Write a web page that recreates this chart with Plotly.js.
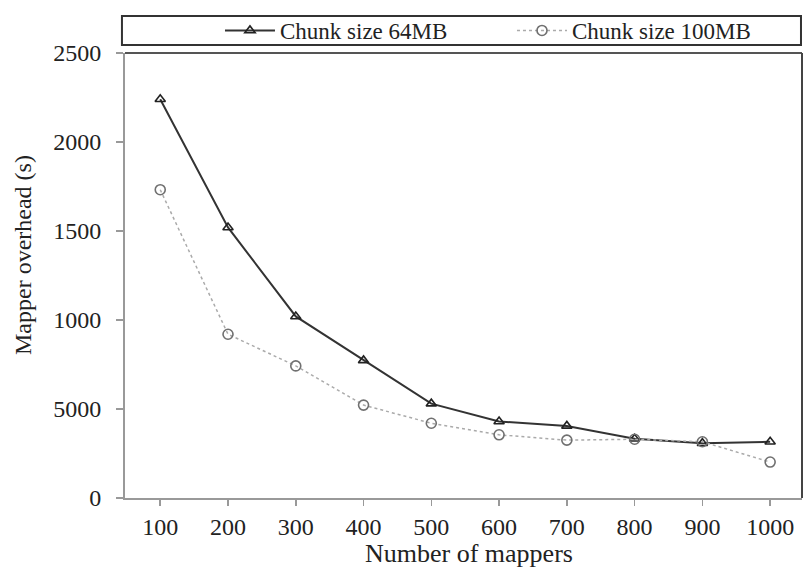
<!DOCTYPE html>
<html>
<head>
<meta charset="utf-8">
<script src="https://cdn.plot.ly/plotly-3.0.1.min.js"></script>
<style>html,body{margin:0;padding:0;background:#fff;}#chart{width:806px;height:567px;}</style>
</head>
<body>
<div id="chart"></div>
<script>
var mappers = [100, 200, 300, 400, 500, 600, 700, 800, 900, 1000];
var chunk64 = [2240, 1520, 1020, 773, 530, 430, 405, 333, 308, 316];
var chunk100 = [1732, 920, 742, 522, 420, 355, 325, 330, 316, 202];
var yTickVals = [0, 500, 1000, 1500, 2000, 2500];
var yTickText = ["0", "5000", "1000", "1500", "2000", "2500"];
var seriesNames = ["Chunk size 64MB", "Chunk size 100MB"];
var xTitle = "Number of mappers";
var yTitle = "Mapper overhead (s)";

var serif = "Liberation Serif, Times New Roman, serif";
var txt = "#222";

var traces = [
  {
    x: mappers, y: chunk64, name: seriesNames[0], type: "scatter", mode: "lines+markers",
    line: {color: "#333", width: 2},
    marker: {symbol: "triangle-up-open", size: 9, color: "#222", line: {width: 1.6, color: "#222"}}
  },
  {
    x: mappers, y: chunk100, name: seriesNames[1], type: "scatter", mode: "lines+markers",
    line: {color: "#aaa", width: 1.5, dash: "dot"},
    marker: {symbol: "circle-open", size: 10, color: "#707070", line: {width: 1.6, color: "#707070"}}
  }
];

var layout = {
  width: 806, height: 567,
  margin: {l: 125, r: 4, t: 53, b: 69, autoexpand: false},
  paper_bgcolor: "#fff", plot_bgcolor: "#fff",
  font: {family: serif, size: 24, color: txt},
  showlegend: true,
  legend: {
    orientation: "h", x: 0.1403, xanchor: "left", y: 1.0506, yanchor: "middle",
    bgcolor: "rgba(0,0,0,0)", borderwidth: 0,
    font: {family: serif, size: 23, color: txt},
    itemwidth: 50,
    entrywidth: 227, entrywidthmode: "pixels"
  },
  shapes: [
    {type: "rect", xref: "paper", yref: "paper", x0: -0.0045, x1: 0.9985, y0: 1.018, y1: 1.083,
     line: {color: "#333", width: 2}, fillcolor: "rgba(0,0,0,0)"},
    {type: "line", xref: "paper", yref: "paper", x0: 0, x1: 1, y0: 1, y1: 1, line: {color: "#555", width: 2}},
    {type: "line", xref: "paper", yref: "paper", x0: 1, x1: 1, y0: 0, y1: 1, line: {color: "#444", width: 2}}
  ],
  annotations: [
    {text: xTitle, xref: "paper", yref: "paper", x: 0.508, y: -0.1236, xanchor: "center", yanchor: "middle",
     showarrow: false, font: {family: serif, size: 26, color: txt}},
    {text: yTitle, xref: "paper", yref: "paper", x: -0.1507, y: 0.546, xanchor: "center", yanchor: "middle",
     textangle: -90, showarrow: false, font: {family: serif, size: 24, color: txt}}
  ],
  xaxis: {
    range: [48, 1047], tickvals: mappers, ticks: "outside", ticklen: 6, tickcolor: "#999", tickwidth: 1.5,
    showline: true, linecolor: "#999", linewidth: 2, showgrid: false, zeroline: false,
    tickfont: {family: serif, size: 24, color: txt}
  },
  yaxis: {
    range: [0, 2500], tickvals: yTickVals, ticktext: yTickText, ticks: "outside", ticklen: 7, tickcolor: "#999", tickwidth: 1.5,
    showline: true, linecolor: "#999", linewidth: 2, showgrid: false, zeroline: false, ticklabelstandoff: 10,
    tickfont: {family: serif, size: 24, color: txt}
  }
};

Plotly.newPlot("chart", traces, layout, {displayModeBar: false, staticPlot: true});
</script>
</body>
</html>
